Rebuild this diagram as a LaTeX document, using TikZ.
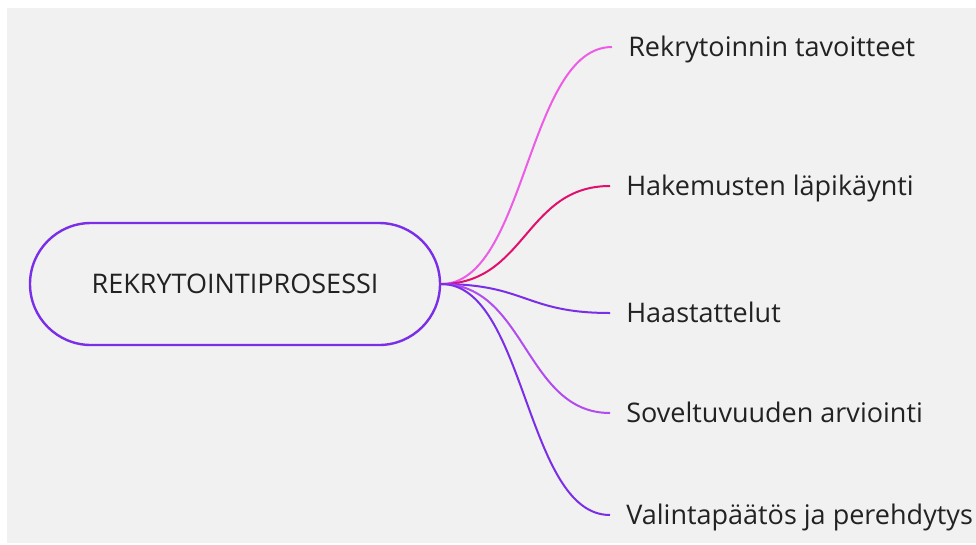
\documentclass[tikz,border=0pt]{standalone}
\usepackage{fontspec}
\setmainfont{Open Sans}
\usetikzlibrary{positioning}

\definecolor{bgray}{HTML}{F1F1F1}
\definecolor{txt}{HTML}{222222}
\definecolor{violet}{HTML}{7B2EE8}
\definecolor{orchid}{HTML}{EC5CE4}
\definecolor{crimson}{HTML}{E0106E}
\definecolor{lilac}{HTML}{B24BF0}

\begin{document}
\begin{tikzpicture}[x=1pt,y=-1pt,semithick]
  \tikzstyle{root}=[draw=violet,line width=2.4pt,rounded corners=61pt,
    minimum width=410pt,minimum height=122pt,text=txt,
    font=\fontsize{27}{32}\selectfont]
  \tikzstyle{leaf}=[anchor=west,inner xsep=16pt,inner ysep=0pt,text=txt,
    text height=19.3pt,text depth=0pt,font=\fontsize{27}{32}\selectfont]
  \tikzstyle{branch}=[line width=2pt]

  \useasboundingbox (0,0) rectangle (976,544);
  \fill[white] (0,0) rectangle (976,544);
  \fill[bgray] (7,8) rectangle (976,543);

  \node[root]          (R)  at (235,284) {REKRYTOINTIPROSESSI};

  \node[leaf]          (T1) at (612,47)  {Rekrytoinnin tavoitteet};
  \node[leaf]          (T2) at (610,186) {Hakemusten läpikäynti};
  \node[leaf]          (T3) at (610,313) {Haastattelut};
  \node[leaf]          (T4) at (610,413) {Soveltuvuuden arviointi};
  \node[leaf]          (T5) at (610,515) {Valintapäätös ja perehdytys};

  \draw[branch,orchid]  (R.east) .. controls +(85,0) and +(-85,0) .. (T1.west);
  \draw[branch,crimson] (R.east) .. controls +(85,0) and +(-85,0) .. (T2.west);
  \draw[branch,violet]  (R.east) .. controls +(85,0) and +(-85,0) .. (T3.west);
  \draw[branch,lilac]   (R.east) .. controls +(85,0) and +(-85,0) .. (T4.west);
  \draw[branch,violet]  (R.east) .. controls +(85,0) and +(-85,0) .. (T5.west);
\end{tikzpicture}
\end{document}
